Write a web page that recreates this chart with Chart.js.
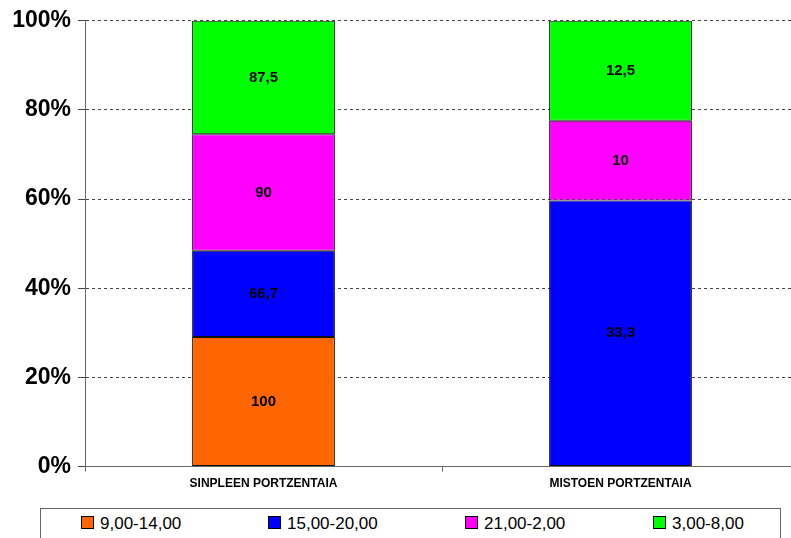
<!DOCTYPE html>
<html>
<head>
<meta charset="utf-8">
<script src="https://cdn.jsdelivr.net/npm/chart.js@4.4.1/dist/chart.umd.min.js"></script>
<style>
  html, body { margin: 0; padding: 0; background: #fff; overflow: hidden; }
  #wrap { position: relative; width: 791px; height: 538px; overflow: hidden; }
  #box { position: absolute; left: 0; top: 0; width: 800px; height: 496px; }
  #legend {
    position: absolute; left: 40px; top: 508px; width: 741px; height: 40px;
    border: 1px solid #666; box-sizing: border-box;
    font-family: "Liberation Sans", Arial, sans-serif; font-size: 17px; color: #000;
  }
  #legend .item { position: absolute; top: 5px; white-space: nowrap; }
  #legend .sw { display: inline-block; width: 11px; height: 11px; border: 1px solid #000; margin-right: 6px; vertical-align: 0px; }
</style>
</head>
<body>
<div id="wrap">
  <div id="box"><canvas id="myChart" width="800" height="496"></canvas></div>
  <div id="legend"></div>
</div>
<script>
const categories = ['SINPLEEN PORTZENTAIA', 'MISTOEN PORTZENTAIA'];
const seriesNames = ['9,00-14,00', '15,00-20,00', '21,00-2,00', '3,00-8,00'];
const seriesColors = ['#FF6600', '#0000FF', '#FF00FF', '#00FF00'];
const s1 = [100, 0];
const s2 = [66.7, 33.3];
const s3 = [90, 10];
const s4 = [87.5, 12.5];
const yTicks = [0, 20, 40, 60, 80, 100];

const raw = [s1, s2, s3, s4];
const totals = categories.map((c, i) => raw.reduce((a, s) => a + s[i], 0));

const font = '"Liberation Sans", Arial, sans-serif';

// value labels in the middle of each segment (raw values, comma decimal)
const barLabels = {
  id: 'barLabels',
  afterDatasetsDraw(chart) {
    const ctx = chart.ctx;
    ctx.save();
    ctx.font = 'bold 15px ' + font;
    ctx.fillStyle = '#000';
    ctx.textAlign = 'center';
    ctx.textBaseline = 'middle';
    chart.data.datasets.forEach((ds, di) => {
      const meta = chart.getDatasetMeta(di);
      meta.data.forEach((bar, i) => {
        const v = ds.rawValues[i];
        if (!v) return;
        ctx.fillText(String(v).replace('.', ','), bar.x, (bar.y + bar.base) / 2);
      });
    });
    ctx.restore();
  }
};

const ctx = document.getElementById('myChart');
new Chart(ctx, {
  type: 'bar',
  data: {
    labels: categories,
    datasets: raw.map((s, k) => ({
      label: seriesNames[k],
      data: s.map((v, i) => v / totals[i] * 100),
      rawValues: s,
      backgroundColor: seriesColors[k],
      borderColor: '#111',
      borderWidth: 1,
      borderSkipped: false,
      categoryPercentage: 1,
      barPercentage: 0.4
    }))
  },
  options: {
    responsive: false,
    animation: false,
    layout: { padding: { left: 11, right: 1, top: 9, bottom: 0 } },
    plugins: { legend: { display: false }, tooltip: { enabled: false } },
    scales: {
      x: {
        stacked: true,
        grid: { drawOnChartArea: false, drawTicks: true, tickLength: 5, color: '#666' },
        border: { color: '#666', width: 1 },
        ticks: { color: '#000', font: { family: font, size: 12, weight: 'bold' }, padding: 5, maxRotation: 0 }
      },
      y: {
        stacked: true,
        min: 0, max: 100,
        afterBuildTicks: sc => { sc.ticks = yTicks.map(v => ({ value: v })); },
        afterFit: sc => { sc.width = 74; },
        grid: { color: '#444', tickBorderDash: [], tickColor: '#444', tickLength: 7, drawTicks: true },
        border: { color: '#666', width: 1, dash: [3, 3] },
        ticks: { color: '#000', padding: 7, font: { family: font, size: 23, weight: 'bold' }, callback: v => v + '%' }
      }
    }
  },
  plugins: [barLabels]
});

const legendPos = [40, 227, 424, 612];
const lg = document.getElementById('legend');
seriesNames.forEach((n, k) => {
  const d = document.createElement('div');
  d.className = 'item';
  d.style.left = legendPos[k] + 'px';
  d.innerHTML = '<span class="sw" style="background:' + seriesColors[k] + '"></span>' + n;
  lg.appendChild(d);
});
</script>
</body>
</html>
